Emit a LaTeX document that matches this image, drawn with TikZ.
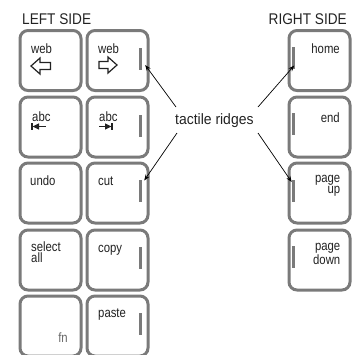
\documentclass[tikz,border=0pt]{standalone}
\usepackage{fontspec}
\setmainfont{Liberation Sans}
\newfontfamily\keyfont{Liberation Sans}[FakeStretch=0.84]
\newfontfamily\labfont{Liberation Sans}[FakeStretch=0.88]
\newfontfamily\midfont{Liberation Sans}[FakeStretch=0.93]
\usetikzlibrary{arrows.meta,calc}
\definecolor{keygray}{HTML}{7A7A7A}
\definecolor{txt}{HTML}{222222}
\begin{document}
\begin{tikzpicture}[x=1pt,y=-1pt,
  key/.style={draw=keygray, line width=3pt, rounded corners=8pt, fill=white,
    minimum width=61pt, minimum height=60pt, anchor=north west, inner sep=0pt},
  ridge/.style={fill=keygray, draw=none, minimum width=3pt, minimum height=22pt, inner sep=0pt},
  klab/.style={font=\keyfont\fontsize{13.5}{10.6}\selectfont, text=txt, inner sep=0pt},
  side/.style={font=\labfont\fontsize{15.5}{16}\selectfont, text=txt, inner sep=0pt, anchor=base west},
  glyph/.style={draw=txt, line width=1.2pt, line join=miter},
  arr/.style={draw=black, line width=0.7pt, -{Stealth[length=6pt,width=4.5pt]}}
]
\useasboundingbox (0,0) rectangle (362,354);
\clip (0,0) rectangle (362,354);

% keys
\foreach \r/\y in {1/29,2/95.5,3/161.5,4/228.5,5/294.5}{
  \node[key] (a\r) at (18.5,\y) {};
  \node[key] (b\r) at (85.5,\y) {};
}
\foreach \r/\y in {1/29,2/95.5,3/161.5,4/228.5}{
  \node[key] (c\r) at (287.5,\y) {};
}

% ridges
\foreach \r/\y in {1/59,2/125.5,3/190.5,4/257.5,5/323.5}{
  \node[ridge] (rb\r) at (140.5,\y) {};
}
\foreach \r/\y in {1/57.5,2/124,3/191,4/257}{
  \node[ridge] (rc\r) at (293.5,\y) {};
}

% headings
\node[side] (lside) at (22,24) {LEFT SIDE};
\node[side, anchor=base east] (rside) at (347,24) {RIGHT SIDE};

% labels left column
\node[klab, anchor=base west] (t11) at (31,53) {web};
\node[klab, anchor=base west] (t12) at (98,53) {web};
\node[klab, anchor=base west] (t21) at (32,121.5) {abc};
\node[klab, anchor=base west] (t22) at (99,121.5) {abc};
\node[klab, anchor=base west] (t31) at (30,185) {undo};
\node[klab, anchor=base west] (t32) at (98,185) {cut};
\node[klab, anchor=north west, align=left] (t41) at (31,242) {select\\all};
\node[klab, anchor=base west] (t42) at (98,252) {copy};
\node[klab, anchor=base east, text=keygray!85!black] (t51) at (68,342) {fn};
\node[klab, anchor=base west] (t52) at (98,317) {paste};

% labels right column
\node[klab, anchor=base east] (u1) at (340,53) {home};
\node[klab, anchor=base east] (u2) at (340,122) {end};
\node[klab, anchor=north east, align=right] (u3) at (340.5,175) {page\\up};
\node[klab, anchor=north east, align=right] (u4) at (340.5,243) {page\\down};

% web arrows (outlined)
\draw[glyph] (31,66) -- (40,58) -- (40,62.5) -- (50.5,62.5) -- (50.5,69.5) -- (40,69.5) -- (40,74) -- cycle;
\draw[glyph] (117,65) -- (108,57) -- (108,61.5) -- (99,61.5) -- (99,68.5) -- (108,68.5) -- (108,73) -- cycle;

% tab arrows
\draw[txt, line width=1.6pt] (32,123) -- (32,130);
\draw[txt, line width=1.5pt] (34,126.5) -- (46,126.5);
\fill[txt] (32.5,126.5) -- (39,123.3) -- (39,129.7) -- cycle;
\draw[txt, line width=1.6pt] (112,123) -- (112,130);
\draw[txt, line width=1.5pt] (99,126.5) -- (110,126.5);
\fill[txt] (111.5,126.5) -- (105,123.3) -- (105,129.7) -- cycle;

% tactile ridges label and arrows
\node[side, font=\midfont\fontsize{15}{16}\selectfont] (lab) at (175,124) {tactile ridges};
\coordinate (s1) at (176,107);
\coordinate (s2) at (258,107);
\coordinate (s3) at (177,133);
\coordinate (s4) at (258,133);
\coordinate (e1) at ($(rb1.east)+(3,6)$);
\coordinate (e2) at ($(rc1.east)+(-1,8)$);
\coordinate (e3) at ($(rb3.east)+(2,-10)$);
\coordinate (e4) at ($(rc3.east)+(-3.5,-9)$);
\draw[arr] (s1) -- (e1);
\draw[arr] (s2) -- (e2);
\draw[arr] (s3) -- (e3);
\draw[arr] (s4) -- (e4);
\end{tikzpicture}
\end{document}
